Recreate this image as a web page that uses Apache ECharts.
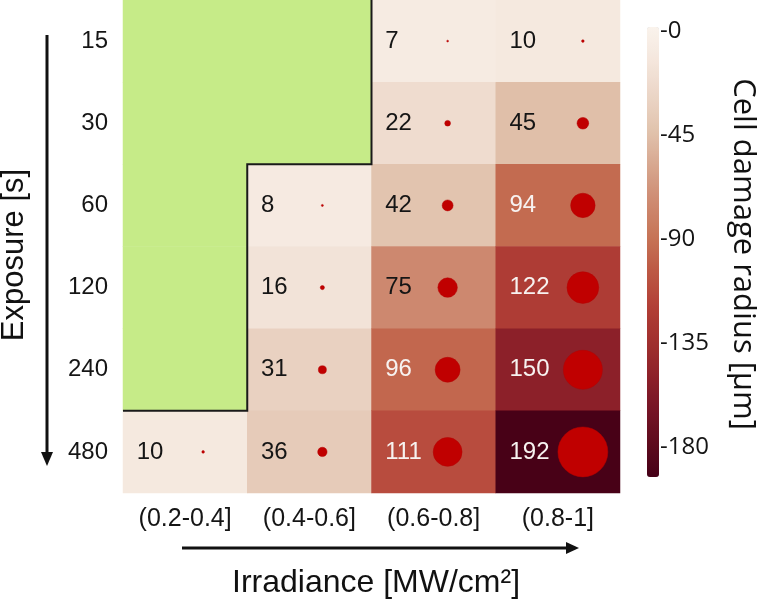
<!DOCTYPE html>
<html>
<head>
<meta charset="utf-8">
<script src="https://cdn.jsdelivr.net/npm/echarts@6/dist/echarts.min.js"></script>
<style>
  html, body { margin: 0; padding: 0; background: #fff; }
  #chart { width: 759px; height: 602px; }
</style>
</head>
<body>
<div id="chart"></div>
<script>
// irradiance bins (columns) and exposure times (rows, top to bottom)
const irradiance = ['(0.2-0.4]', '(0.4-0.6]', '(0.6-0.8]', '(0.8-1]']
const exposure = ['15', '30', '60', '120', '240', '480']

// cell damage radius [um] per column, one entry per exposure row (null = not tested)
const radius04 = [null, null, null, null, null, 10]
const radius06 = [null, null, 8, 16, 31, 36]
const radius08 = [7, 22, 42, 75, 96, 111]
const radius10 = [10, 45, 94, 122, 150, 192]
const columns = [radius04, radius06, radius08, radius10]

const colorbarTicks = [0, -45, -90, -135, -180]

// plot area in pixels, and horizontal shift of the dots inside each column
const G = { left: 123, top: 0, width: 497, height: 493 }
const dotShift = [18, 13, 14, 25]

const cells = []
const dots = []
const untested = []
columns.forEach((col, xi) => {
  col.forEach((v, yi) => {
    if (v == null) {
      untested.push([xi, yi, 0])
      return
    }
    cells.push({
      value: [xi, yi, -v],
      label: { color: v >= 90 ? '#f7f2f0' : '#151515' }
    })
    dots.push({ value: [xi, yi, v], symbolOffset: [dotShift[xi], 0] })
  })
})

const chart = echarts.init(document.getElementById('chart'))

// staircase outline around the untested (green) block
const colW = G.width / irradiance.length
const rowH = G.height / exposure.length
const greenRows = columns.map(c => c.filter(v => v == null).length)
const stair = [[G.left, G.top + greenRows[0] * rowH]]
greenRows.forEach((n, xi) => {
  if (n === 0) return
  const yb = G.top + n * rowH
  stair.push([G.left + xi * colW, yb])
  stair.push([G.left + (xi + 1) * colW, yb])
})
stair.push([stair[stair.length - 1][0], G.top])
const stairPts = []
stair.forEach((p, i) => {
  if (i > 0) {
    const prev = stair[i - 1]
    if (prev[1] !== p[1] && prev[0] !== p[0]) stairPts.push([p[0], prev[1]])
  }
  stairPts.push(p)
})

const fontNum = 'Liberation Sans, Arial, sans-serif'
const fontBar = 'Open Sans, sans-serif'

chart.setOption({
  animation: false,
  backgroundColor: '#fff',
  grid: [
    { left: G.left, top: G.top, width: G.width, height: G.height },
    { left: 647, top: 27, width: 12, height: 450 }
  ],
  xAxis: [
    {
      type: 'category',
      data: irradiance,
      gridIndex: 0,
      axisLine: { show: false },
      axisTick: { show: false },
      splitArea: { show: false },
      axisLabel: { fontSize: 25, fontFamily: fontNum, color: '#151515', margin: 14 }
    },
    { type: 'value', gridIndex: 1, show: false }
  ],
  yAxis: [
    {
      type: 'category',
      data: exposure,
      inverse: true,
      gridIndex: 0,
      axisLine: { show: false },
      axisTick: { show: false },
      axisLabel: { fontSize: 24, fontFamily: fontNum, color: '#151515', margin: 15 }
    },
    {
      type: 'value',
      gridIndex: 1,
      position: 'right',
      min: -193,
      max: 2,
      axisLine: { show: false },
      axisTick: { show: false },
      splitLine: { show: false },
      axisLabel: {
        customValues: colorbarTicks,
        margin: 1,
        fontSize: 24,
        fontFamily: fontBar,
        color: '#151515',
        formatter: v => (v === 0 ? '-0' : String(v))
      }
    }
  ],
  visualMap: {
    type: 'continuous',
    seriesIndex: 0,
    min: -193,
    max: 2,
    calculable: false,
    orient: 'vertical',
    left: 647,
    top: 27,
    padding: 0,
    itemWidth: 12,
    itemHeight: 450,
    inRange: {
      color: ['#460017', '#5f0b1e', '#771526', '#8f222a', '#a2312f', '#b34037', '#bd5a45',
        '#c77658', '#ce8b72', '#d7a78f', '#e1c3ad', '#ebd5c6', '#f4e6dc', '#faf3ec']
    }
  },
  series: [
    {
      type: 'heatmap',
      data: cells,
      label: {
        show: true,
        position: 'insideLeft',
        distance: 14,
        fontSize: 24,
        fontFamily: fontNum,
        formatter: p => String(-p.value[2])
      },
      emphasis: { disabled: true }
    },
    {
      type: 'heatmap',
      data: untested,
      itemStyle: { color: '#c6eb88' },
      emphasis: { disabled: true }
    },
    {
      type: 'scatter',
      data: dots,
      symbol: 'circle',
      symbolSize: d => d[2] * 0.26,
      itemStyle: { color: '#c00000', opacity: 1, borderColor: '#b40000', borderWidth: 0.5 },
      emphasis: { disabled: true }
    }
  ],
  graphic: [
    {
      type: 'polyline',
      shape: { points: stairPts },
      style: { stroke: '#1a1a1a', lineWidth: 2, fill: null },
      z: 10
    },
    // exposure arrow
    { type: 'line', shape: { x1: 47, y1: 35, x2: 47, y2: 456 }, style: { stroke: '#111', lineWidth: 3 } },
    { type: 'polygon', shape: { points: [[41, 452], [53, 452], [47, 466]] }, style: { fill: '#111' } },
    // irradiance arrow
    { type: 'line', shape: { x1: 182, y1: 548, x2: 570, y2: 548 }, style: { stroke: '#111', lineWidth: 3 } },
    { type: 'polygon', shape: { points: [[566, 542], [566, 554], [579, 548]] }, style: { fill: '#111' } },
    {
      type: 'text',
      x: 14,
      y: 255,
      rotation: Math.PI / 2,
      style: { text: 'Exposure [s]', font: '31px ' + fontNum, fill: '#111', align: 'center', verticalAlign: 'middle' }
    },
    {
      type: 'text',
      x: 376,
      y: 583,
      style: { text: 'Irradiance [MW/cm²]', font: '32px ' + fontNum, fill: '#111', align: 'center', verticalAlign: 'middle' }
    },
    {
      type: 'text',
      x: 743,
      y: 254,
      rotation: -Math.PI / 2,
      style: { text: 'Cell damage radius [µm]', font: '31px ' + fontBar, fill: '#111', align: 'center', verticalAlign: 'middle' }
    }
  ]
})
</script>
</body>
</html>
